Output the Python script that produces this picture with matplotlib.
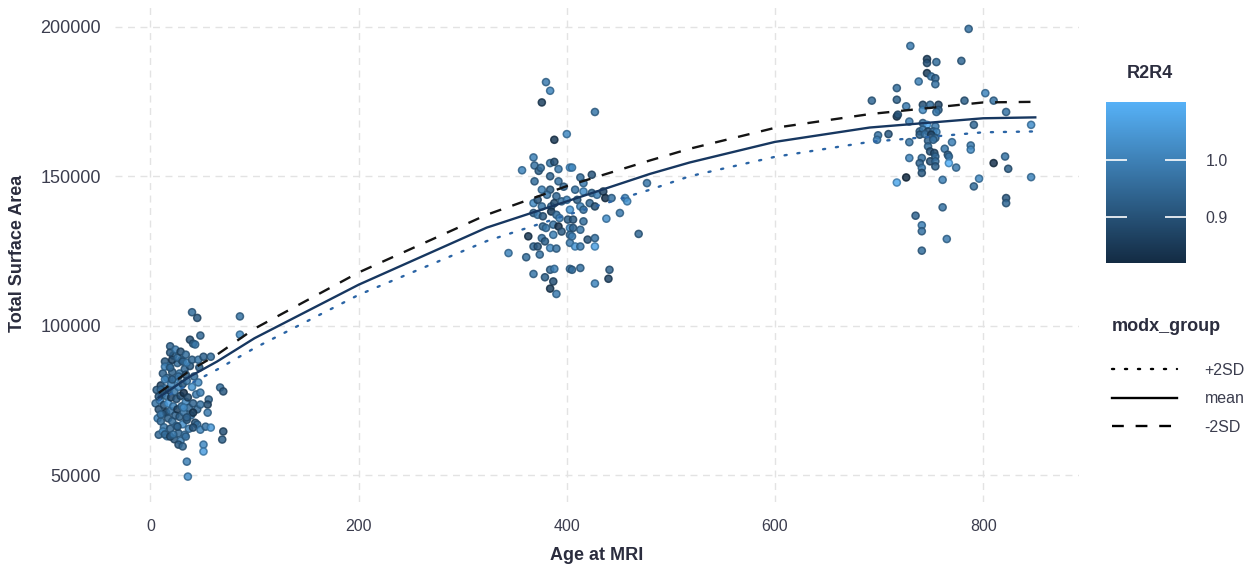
import numpy as np
import matplotlib
matplotlib.use("Agg")
import matplotlib.pyplot as plt
from matplotlib.colors import LinearSegmentedColormap, Normalize
from matplotlib.lines import Line2D

plt.rcParams['font.family'] = ['Liberation Sans', 'DejaVu Sans']

# ---- data ----
# (age at MRI, total surface area, R2R4)
pts_early = [
    (5, 74000, 0.97), (6, 78500, 0.93), (7, 69000, 1.01), (8, 63500, 0.95),
    (8, 72000, 0.90), (9, 75000, 1.02), (10, 68000, 0.96), (10, 80000, 0.88),
    (11, 77000, 0.99), (12, 70500, 1.04), (12, 84000, 0.94), (13, 73500, 0.91),
    (13, 66000, 0.98), (14, 79000, 1.00), (14, 88000, 0.92), (15, 71000, 0.86),
    (15, 76500, 0.97), (16, 63000, 1.03), (16, 82500, 0.95), (17, 69000, 0.93),
    (17, 74000, 1.06), (18, 78500, 0.90), (18, 86500, 0.99), (19, 65500, 0.94),
    (19, 71500, 0.97), (20, 80500, 1.01), (20, 76000, 0.88), (21, 68000, 0.96),
    (21, 84500, 0.93), (22, 73000, 1.00), (22, 90000, 0.95), (23, 62000, 0.91),
    (23, 78000, 0.98), (24, 70000, 0.94), (24, 82000, 1.05), (25, 75500, 0.92),
    (25, 66500, 0.99), (26, 87500, 0.96), (26, 72000, 0.87), (27, 79500, 1.02),
    (27, 64000, 0.95), (28, 69500, 0.93), (28, 84000, 0.98), (29, 76500, 0.90),
    (29, 61500, 1.00), (30, 73000, 0.96), (30, 88500, 0.94), (31, 67000, 1.03),
    (31, 80500, 0.91), (32, 71000, 0.97), (32, 77500, 0.84), (33, 63500, 0.99),
    (33, 85500, 0.95), (34, 74500, 1.01), (35, 68500, 0.93), (35, 81500, 0.97),
    (36, 76000, 0.89), (37, 65500, 1.00), (37, 72500, 0.95), (38, 86500, 0.92),
    (39, 70000, 0.98), (40, 79500, 1.04), (41, 74000, 0.94), (42, 83000, 0.96),
    (43, 67500, 0.91), (44, 77000, 0.99), (45, 72000, 0.95), (46, 81000, 1.02),
    (47, 86000, 0.93),
    (40, 104500, 0.96), (45, 102600, 0.92), (86, 103100, 0.97), (86, 97000, 1.02),
    (48, 96700, 0.95), (38, 95300, 0.90), (41, 94000, 0.93), (43, 93700, 0.98),
    (19, 93100, 0.94), (67, 79300, 0.96), (70, 78000, 0.92), (48, 77600, 1.00),
    (56, 75300, 0.95), (55, 73600, 0.89), (48, 73600, 0.97), (41, 70900, 0.86),
    (55, 70900, 0.99), (32, 72600, 1.03), (35, 69300, 0.94), (45, 66900, 0.96),
    (41, 65900, 0.91), (48, 65200, 1.01), (53, 66200, 0.97), (58, 65900, 1.05),
    (70, 64600, 0.90), (69, 61900, 0.93), (34, 62900, 0.97), (27, 60200, 0.92),
    (31, 59600, 0.95), (51, 60200, 1.02), (51, 57900, 1.06), (35, 54500, 1.00),
    (36, 49500, 1.03), (12, 64600, 1.02), (14, 63600, 0.95), (19, 62900, 0.90),
    (22, 63600, 0.98), (26, 66200, 0.93), (10, 70300, 0.97), (8, 76300, 0.91),
    (10, 78600, 0.96), (14, 82000, 1.01), (21, 82000, 0.94), (27, 83000, 0.97),
    (34, 83600, 0.92), (14, 86300, 1.00), (19, 86000, 0.95), (21, 88600, 0.88),
    (26, 89300, 0.97), (31, 88000, 0.93), (35, 87600, 1.01), (40, 88600, 0.95),
    (46, 88600, 0.98), (51, 89600, 0.94), (58, 89600, 0.96), (19, 91000, 0.92),
    (24, 92000, 0.99), (29, 91300, 0.90), (34, 90300, 0.96),
]

pts_mid = [
    (380, 181500, 0.99), (384, 178600, 1.01), (376, 174700, 0.87), (400, 164100, 1.02),
    (388, 162200, 0.85), (368, 156300, 1.00), (369, 153600, 0.97), (357, 152000, 1.01),
    (373, 151800, 0.93), (375, 152800, 0.96), (384, 154400, 0.98), (388, 154800, 0.90),
    (392, 152400, 0.99), (403, 152900, 1.04), (369, 148300, 0.96), (384, 150000, 0.94),
    (392, 148300, 0.97), (376, 145500, 1.00), (384, 145500, 0.93), (390, 143300, 0.95),
    (368, 141000, 1.02), (372, 142100, 0.91), (376, 139900, 0.98), (385, 139900, 0.95),
    (388, 141000, 0.89), (395, 141600, 0.97), (400, 142100, 1.00), (403, 138800, 1.05),
    (368, 137700, 0.94), (372, 137100, 0.99), (377, 136600, 0.92), (385, 138200, 0.86),
    (390, 137100, 0.96), (393, 136000, 1.01), (401, 135500, 0.93), (387, 133800, 0.97),
    (392, 133200, 0.84), (377, 133200, 0.95), (380, 132700, 0.98), (403, 132700, 1.03),
    (403, 130400, 0.96), (363, 129900, 0.85), (376, 129300, 0.97), (379, 128200, 0.93),
    (387, 130400, 1.00), (368, 126500, 0.95), (372, 126500, 0.91), (384, 126000, 1.02),
    (390, 125800, 0.97), (403, 127700, 0.99), (344, 124300, 1.01), (361, 122900, 0.96),
    (368, 117300, 0.98), (379, 116200, 0.93), (384, 118700, 0.95), (388, 119000, 1.00),
    (403, 119000, 0.97), (387, 114800, 0.90), (384, 112400, 0.86), (390, 110600, 0.99),
    (427, 171500, 0.98), (405, 152900, 1.02), (413, 149600, 0.96), (416, 147700, 0.99),
    (424, 150500, 0.91), (408, 145500, 0.97), (416, 144900, 1.03), (424, 144400, 0.95),
    (429, 143800, 1.00), (435, 144900, 0.88), (437, 142700, 0.84), (443, 142700, 0.97),
    (456, 142700, 1.02), (458, 141600, 1.04), (477, 147700, 0.98), (410, 142100, 0.93),
    (413, 139900, 1.01), (422, 141000, 0.95), (427, 139900, 0.90), (416, 138800, 0.97),
    (438, 135800, 1.03), (451, 137700, 0.99), (406, 135500, 0.92), (416, 134900, 0.96),
    (406, 132700, 0.94), (413, 132100, 0.98), (469, 130700, 0.95), (405, 129900, 1.00),
    (420, 128800, 0.91), (427, 129300, 0.97), (408, 126500, 1.05), (413, 126500, 0.99),
    (427, 126500, 1.07), (405, 118700, 0.96), (413, 119300, 0.97), (441, 118700, 0.94),
    (440, 115700, 0.88), (427, 114100, 1.01), (397, 146500, 0.95), (381, 143800, 0.98),
    (395, 131500, 0.92), (374, 123800, 0.97),
]

pts_late = [
    (786, 199300, 0.97), (730, 193600, 0.99), (746, 189200, 0.87), (746, 187900, 0.90),
    (755, 188200, 0.96), (779, 188600, 0.95), (746, 184500, 0.86), (750, 183400, 0.98),
    (754, 182800, 0.94), (754, 180800, 0.97), (738, 181700, 1.00), (717, 179500, 0.96),
    (717, 175600, 0.93), (693, 175300, 0.95), (802, 177800, 1.01), (810, 175300, 0.97),
    (726, 173400, 0.99), (742, 173900, 0.90), (749, 173900, 0.96), (742, 172200, 1.02),
    (757, 173900, 0.88), (757, 172200, 0.94), (755, 171500, 0.98), (782, 175300, 0.93),
    (717, 170000, 0.85), (718, 170600, 0.91), (822, 171500, 0.97), (729, 168300, 1.00),
    (742, 167800, 0.96), (746, 167200, 1.09), (754, 166700, 0.99), (791, 167200, 0.95),
    (846, 167200, 1.03), (699, 163700, 0.97), (709, 164100, 0.92), (739, 165000, 0.95),
    (742, 165600, 0.98), (747, 165000, 0.90), (752, 165000, 0.96), (755, 164800, 1.01),
    (739, 163900, 0.93), (744, 164100, 0.97), (750, 163900, 0.88), (754, 162800, 0.95),
    (698, 162200, 1.00), (729, 161400, 0.98), (747, 161900, 0.94), (752, 162200, 0.97),
    (770, 161400, 1.00), (788, 160300, 0.99), (788, 158900, 1.02), (747, 160000, 0.96),
    (749, 158300, 0.91), (763, 159200, 0.98), (766, 157200, 0.93), (753, 157800, 0.89),
    (754, 156600, 0.95), (729, 156100, 1.01), (741, 156100, 0.97), (739, 154400, 0.94),
    (741, 152800, 0.99), (741, 151100, 0.92), (749, 155000, 0.90), (754, 155000, 0.96),
    (754, 153300, 0.93), (767, 156600, 0.97), (767, 154400, 1.10), (774, 152900, 0.99),
    (810, 154400, 0.84), (821, 156600, 0.97), (824, 152500, 0.93), (726, 149600, 0.82),
    (717, 147900, 1.08), (761, 148800, 1.00), (796, 149200, 1.02), (791, 146600, 0.96),
    (846, 149700, 1.01), (822, 142700, 0.92), (822, 141000, 0.95), (761, 139600, 0.97),
    (735, 136800, 0.94), (741, 133600, 1.00), (741, 131600, 0.97), (765, 129000, 0.99),
    (741, 125100, 0.96),
]

# fitted lines for modx_group
fit_age = [8, 38, 64, 100, 200, 323, 400, 480, 518, 600, 691, 800, 850]
fit_plus2sd = [75000, 80500, 85300, 92500, 110300, 128300, 137000, 145500,
               150000, 156500, 161500, 164700, 165000]
fit_mean = [76000, 83000, 88000, 95800, 113700, 132800, 141600, 150800,
            154600, 161500, 166300, 169400, 169700]
fit_minus2sd = [77500, 85000, 90300, 99000, 117800, 137100, 146700, 155300,
                159200, 166200, 170800, 174700, 174900]

x_ticks = [0, 200, 400, 600, 800]
y_ticks = [50000, 100000, 150000, 200000]
cbar_ticks = [0.9, 1.0]

# ---- figure ----
allpts = np.array(pts_early + pts_mid + pts_late)
age, tsa, r2r4 = allpts[:, 0], allpts[:, 1], allpts[:, 2]

cmap = LinearSegmentedColormap.from_list('gg', ['#132B43', '#56B1F7'])
norm = Normalize(vmin=r2r4.min(), vmax=r2r4.max())

fig = plt.figure(figsize=(12.55, 5.71), dpi=100)
ax = fig.add_axes([115 / 1255, 69 / 571, 964 / 1255, 497 / 571])

fc = cmap(norm(r2r4))
fc[:, 3] = 0.85
ec = cmap(norm(r2r4)) * np.array([0.72, 0.72, 0.72, 1.0])
ec[:, 3] = 0.85
ax.scatter(age, tsa, s=26, facecolors=fc, edgecolors=ec, linewidths=1.1, zorder=2)

ax.plot(fit_age, fit_plus2sd, color='#2a64a5', lw=1.7, linestyle=(0, (0.9, 4.6)),
        dash_capstyle='round', zorder=3)
ax.plot(fit_age, fit_mean, color='#173760', lw=1.7, zorder=3)
ax.plot(fit_age, fit_minus2sd, color='#141414', lw=1.7, linestyle=(0, (5, 5)), zorder=3)

ax.set_xlim(-34, 892)
ax.set_ylim(41000, 207300)
ax.set_xticks(x_ticks)
ax.set_yticks(y_ticks)
ax.set_yticklabels([str(v) for v in y_ticks])
ax.grid(True, color='#e3e3e3', linestyle=(0, (5, 4)), linewidth=1.0)
ax.set_axisbelow(True)
for sp in ax.spines.values():
    sp.set_visible(False)
ax.tick_params(length=0, labelcolor='#3b3d4e')
ax.tick_params(axis='x', pad=12, labelsize=11.5)
ax.tick_params(axis='y', pad=10, labelsize=13)

ax.set_xlabel('Age at MRI', fontsize=13, fontweight='bold', color='#2b2d3e')
ax.set_ylabel('Total Surface Area', fontsize=13, fontweight='bold', color='#2b2d3e')
ax.xaxis.set_label_coords(0.5, -(547 - 502) / 497)
ax.yaxis.set_label_coords(-(115 - 26) / 964, 0.5)

# colorbar
cax = fig.add_axes([1106 / 1255, (571 - 263) / 571, 80 / 1255, 161 / 571])
sm = plt.cm.ScalarMappable(cmap=cmap, norm=norm)
cb = fig.colorbar(sm, cax=cax, ticks=cbar_ticks)
cb.outline.set_visible(False)
cax.tick_params(direction='in', length=15, width=1.2, color='white',
                left=True, right=True, labelsize=11.5, labelcolor='#3b3d4e', pad=14)
cax.set_yticklabels(['0.9', '1.0'])
fig.text(1150 / 1255, 1 - 73 / 571, 'R2R4', fontsize=13, fontweight='bold',
         color='#2b2d3e', ha='center', va='center')

# line type legend
handles = [
    Line2D([], [], color='black', lw=1.7, linestyle=(0, (0.9, 4.6)), dash_capstyle='round'),
    Line2D([], [], color='black', lw=1.7),
    Line2D([], [], color='black', lw=1.7, linestyle=(0, (5, 5))),
]
leg = ax.legend(handles, ['+2SD', 'mean', '-2SD'], title='modx_group',
                loc='upper left', bbox_to_anchor=(1112 / 1255, 1 - 318 / 571),
                bbox_transform=fig.transFigure, frameon=False, fontsize=11.5,
                handlelength=4.1, handletextpad=1.7, labelspacing=0.85,
                borderaxespad=0, borderpad=0)
leg.get_title().set_fontsize(13)
leg.get_title().set_fontweight('bold')
leg.get_title().set_color('#2b2d3e')
leg._legend_box.align = 'left'
leg._legend_box.sep = 20
for t in leg.get_texts():
    t.set_color('#3b3d4e')

fig.savefig('out.png', dpi=100)
